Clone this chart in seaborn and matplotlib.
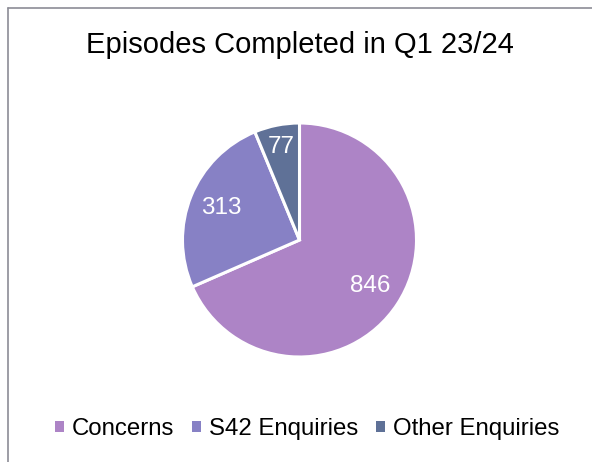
import matplotlib
matplotlib.use("Agg")
import matplotlib.pyplot as plt
import seaborn as sns
from matplotlib.patches import Patch
from matplotlib.lines import Line2D

# chart data
categories = ["Concerns", "S42 Enquiries", "Other Enquiries"]
values = [846, 313, 77]
colors = ["#AD84C6", "#8781C5", "#5F7197"]
title = "Episodes Completed in Q1 23/24"

sns.set_theme(style="white")
plt.rcParams['font.family'] = ['Liberation Sans', 'DejaVu Sans']

fig = plt.figure(figsize=(5.92, 4.62), dpi=100)

# pie axes sized to the plot area (centre ~ (299, 240), radius ~117 px)
W, H = 592, 462
cx, cy, r = 299.5, 240, 117
ax = fig.add_axes([(cx - r) / W, (H - cy - r) / H, 2 * r / W, 2 * r / H])

wedges, texts, autotexts = ax.pie(
    values, colors=colors, startangle=90, counterclock=False,
    autopct=lambda p: f"{round(p * sum(values) / 100):d}",
    pctdistance=0.72,
    wedgeprops=dict(edgecolor="white", linewidth=2.2),
    textprops=dict(color="white", fontsize=17.5),
)
# small slice label sits further out
x, y = autotexts[2].get_position()
autotexts[2].set_position((x * 1.12, y * 1.12))
ax.set_xlim(-1, 1)
ax.set_ylim(-1, 1)

fig.text(0.507, 1 - 45 / H, title, ha="center", va="center", fontsize=21, color="black")

handles = [Patch(facecolor=c, edgecolor="none") for c in colors]
leg = fig.legend(handles, categories, loc="center", bbox_to_anchor=(307 / W, 1 - 429 / H),
                 ncol=3, frameon=False, fontsize=17.3, handlelength=0.36, handleheight=0.36,
                 handletextpad=0.33, columnspacing=0.75)
for t in leg.get_texts():
    t.set_color("black")

# chart frame (only top and left edges are visible)
fig.add_artist(Line2D([8 / W, 1], [1 - 8 / H, 1 - 8 / H], color="#8C8C96", lw=1.2))
fig.add_artist(Line2D([8 / W, 8 / W], [0, 1 - 8 / H], color="#8C8C96", lw=1.2))

fig.savefig("out.png", dpi=100)
